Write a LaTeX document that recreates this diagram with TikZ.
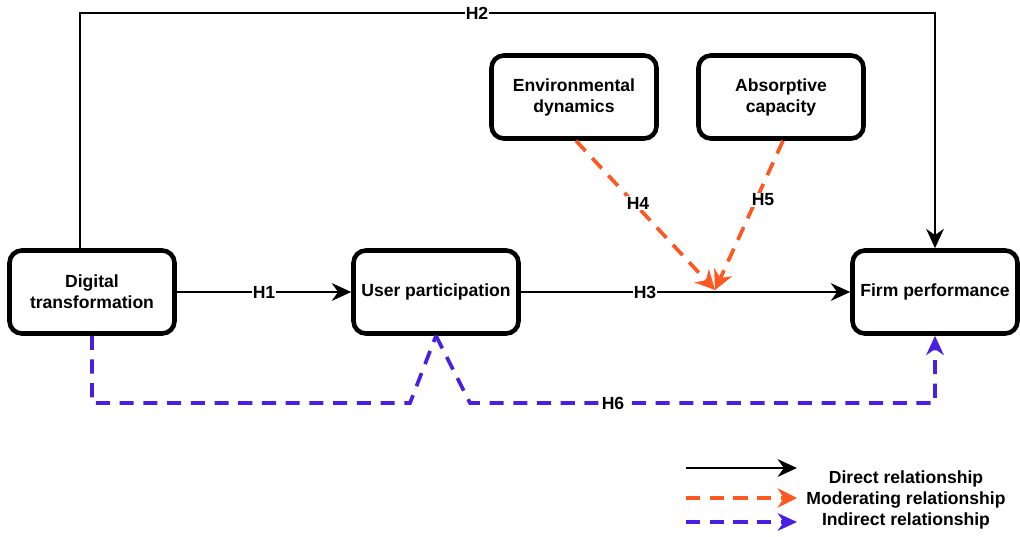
\documentclass[tikz,border=0pt]{standalone}
\usepackage{fontspec}
\setmainfont{Liberation Sans}
\usepackage{xcolor}
\usetikzlibrary{calc,arrows.meta}
\definecolor{ink}{HTML}{000000}
\definecolor{modc}{HTML}{FF5722}
\definecolor{indc}{HTML}{4B1FE3}
\tikzset{
  box/.style={draw=ink, line width=2.6pt, rounded corners=7pt, fill=white,
    minimum width=3.3cm, minimum height=1.66cm, align=center,
    font=\bfseries\fontsize{10}{12}\selectfont},
  rel/.style={draw=ink, line width=1.6pt, -{Stealth[length=11pt,width=10pt,inset=3.5pt]}},
  mod/.style={draw=modc, line width=2.1pt, dash pattern=on 8pt off 5.5pt,
    -{Stealth[length=11pt,width=11pt,inset=3.5pt]}},
  ind/.style={draw=indc, line width=2.1pt, dash pattern=on 8pt off 5.5pt,
    -{Stealth[length=11pt,width=10pt,inset=3.5pt]}},
  lab/.style={fill=white, inner sep=0.6pt, font=\bfseries\fontsize{10}{12}\selectfont},
  leg/.style={font=\bfseries\fontsize{10}{12}\selectfont, inner sep=0pt},
}

\begin{document}
\begin{tikzpicture}[x=0.02cm, y=-0.02cm]
  \useasboundingbox (0,0) rectangle (1020,537);

  \node[box] (dt) at (92,292) {Digital\\transformation};
  \node[box] (up) at (436,292) {User participation};
  \node[box] (fp) at (935,292) {Firm performance};
  \node[box] (ed) at (574,97) {Environmental\\dynamics};
  \node[box] (ac) at (781,97) {Absorptive\\capacity};

  \coordinate (m) at (715,290);

  % direct paths
  \draw[rel] (dt) -- node[lab] {H1} (up);
  \draw[rel] (up) -- (fp);
  \node[lab] at (645,292) {H3};
  \draw[rel] ($(dt.north)+(-12,0)$) |- (477,13) -| (fp.north);
  \node[lab] at (477,13) {H2};

  % moderators
  \draw[mod] ($(ed.south)+(2,0)$) -- (m);
  \draw[mod] ($(ac.south)+(2,0)$) -- (m);
  \node[lab] at (638,203) {H4};
  \node[lab] at (763,200) {H5};

  % indirect path
  \draw[indc, line width=2.1pt, dash pattern=on 8pt off 5.5pt]
    (dt.south) |- (410,403) -- (up.south);
  \draw[ind] (up.south) -- (470,403) -| (fp.south);
  \node[lab] at (613,403) {H6};

  % legend
  \coordinate (l1a) at (686,468); \coordinate (l1b) at (797,468);
  \coordinate (l2a) at (686,498); \coordinate (l2b) at (797,498);
  \coordinate (l3a) at (686,522); \coordinate (l3b) at (797,522);
  \draw[rel] (l1a) -- (l1b);
  \draw[mod] (l2a) -- (l2b);
  \draw[ind] (l3a) -- (l3b);
  \node[leg] at (906,479) {Direct relationship};
  \node[leg] at (906,500) {Moderating relationship};
  \node[leg] at (906,521) {Indirect relationship};
\end{tikzpicture}
\end{document}
